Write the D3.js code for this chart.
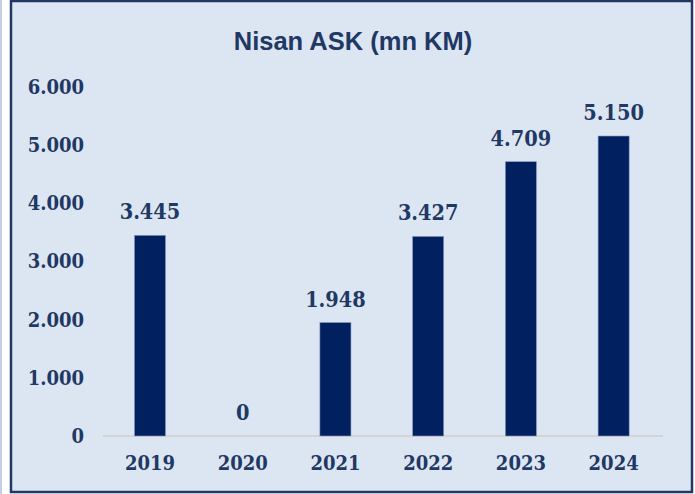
<!DOCTYPE html>
<html>
<head>
<meta charset="utf-8">
<script src="https://cdn.jsdelivr.net/npm/d3@7"></script>
<style>
  html, body { margin: 0; padding: 0; background: #ffffff; }
  svg { display: block; }
</style>
</head>
<body>
<svg id="chart"></svg>
<script>
const width = 695
const height = 494

const title = "Nisan ASK (mn KM)"
const years = ["2019", "2020", "2021", "2022", "2023", "2024"]
const askValues = [3445, 0, 1948, 3427, 4709, 5150]
const valueLabels = ["3.445", "0", "1.948", "3.427", "4.709", "5.150"]
const yTicks = [0, 1000, 2000, 3000, 4000, 5000, 6000]
const yTickLabels = ["0", "1.000", "2.000", "3.000", "4.000", "5.000", "6.000"]

const textColor = "#1f3864"
const barColor = "#002060"
const serif = "'DejaVu Serif Condensed', 'DejaVu Serif', serif"

const svg = d3.select("#chart")
    .attr("width", width)
    .attr("height", height)
    .attr("viewBox", [0, 0, width, height])

// thin strip on the far left
svg.append("rect")
    .attr("x", 0).attr("y", 0)
    .attr("width", 2).attr("height", height)
    .attr("fill", "#c5cfe0")

// chart frame
svg.append("rect")
    .attr("x", 11).attr("y", 1)
    .attr("width", 681).attr("height", 491)
    .attr("fill", "#dce6f2")
    .attr("stroke", textColor)
    .attr("stroke-width", 2.5)

svg.append("text")
    .attr("x", 353)
    .attr("y", 50)
    .attr("text-anchor", "middle")
    .attr("fill", textColor)
    .attr("font-family", "'Liberation Sans Narrow', 'Liberation Sans', sans-serif")
    .attr("font-weight", "bold")
    .attr("font-size", 25.5)
    .text(title)

const x = d3.scaleBand()
    .domain(years)
    .range([103.6, 660])
    .paddingInner(0.665)
    .paddingOuter(0.3325)

const y = d3.scaleLinear()
    .domain([0, 6000])
    .range([436, 86.5])

const serifText = sel => sel
    .attr("fill", textColor)
    .attr("font-family", serif)
    .attr("font-stretch", "condensed")
    .attr("font-weight", "bold")

// y tick labels
svg.append("g")
    .selectAll("text")
    .data(yTicks)
    .join("text")
    .attr("x", 84)
    .attr("y", d => y(d))
    .attr("dy", "0.36em")
    .attr("text-anchor", "end")
    .call(serifText)
    .attr("font-size", 20)
    .text((d, i) => yTickLabels[i])

// baseline
svg.append("line")
    .attr("x1", 103).attr("x2", 663)
    .attr("y1", y(0)).attr("y2", y(0))
    .attr("stroke", "#d4d4d4")
    .attr("stroke-width", 2)

// bars
svg.append("g")
    .selectAll("rect")
    .data(askValues)
    .join("rect")
    .attr("x", (d, i) => x(years[i]))
    .attr("y", d => y(d))
    .attr("width", x.bandwidth())
    .attr("height", d => y(0) - y(d))
    .attr("fill", barColor)
    .attr("stroke", d => d > 0 ? "#8a9ac0" : "none")
    .attr("stroke-width", 0.6)

// value labels
svg.append("g")
    .selectAll("text")
    .data(askValues)
    .join("text")
    .attr("x", (d, i) => x(years[i]) + x.bandwidth() / 2)
    .attr("y", d => y(d) - 16)
    .attr("text-anchor", "middle")
    .call(serifText)
    .attr("font-size", 21.5)
    .text((d, i) => valueLabels[i])

// x labels
svg.append("g")
    .selectAll("text")
    .data(years)
    .join("text")
    .attr("x", d => x(d) + x.bandwidth() / 2)
    .attr("y", 470)
    .attr("text-anchor", "middle")
    .call(serifText)
    .attr("font-size", 20)
    .text(d => d)
</script>
</body>
</html>
